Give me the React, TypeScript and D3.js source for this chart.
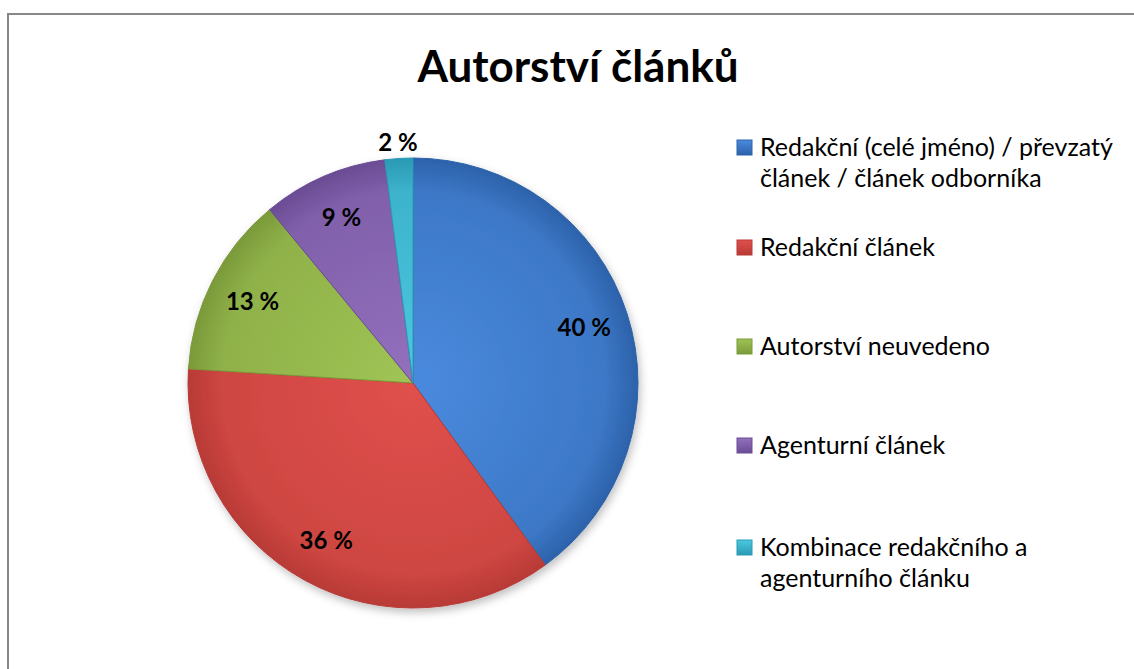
import React, { useEffect, useRef } from 'react';
import * as d3 from 'd3';

const categories = [
  'Redakční (celé jméno) / převzatý článek / článek odborníka',
  'Redakční článek',
  'Autorství neuvedeno',
  'Agenturní článek',
  'Kombinace redakčního a agenturního článku',
];
const values = [40, 36, 13, 9, 2];
const valueLabels = ['40 %', '36 %', '13 %', '9 %', '2 %'];
// legend text broken into lines as in the original
const legendLines = [
  ['Redakční (celé jméno) / převzatý', 'článek / článek odborníka'],
  ['Redakční článek'],
  ['Autorství neuvedeno'],
  ['Agenturní článek'],
  ['Kombinace redakčního a', 'agenturního článku'],
];
const colorsLight = ['#4a8ade', '#e0504c', '#a0c455', '#9370bd', '#4cc8e0'];
const colorsDark = ['#2c62aa', '#b83a36', '#7a9a3a', '#6a4c94', '#2a9ab4'];

const FONT = 'Lato, "Open Sans", sans-serif';

function App() {
  const ref = useRef<SVGSVGElement>(null);

  useEffect(() => {
    const svg = d3.select(ref.current);
    svg.selectAll('*').remove();

    const width = 1134;
    const height = 669;
    const cx = 413;
    const cy = 383;
    const r = 225;

    // frame (cut off on right and bottom like the original)
    svg
      .append('rect')
      .attr('x', 8)
      .attr('y', 14)
      .attr('width', width + 20)
      .attr('height', height + 20)
      .attr('fill', '#fff')
      .attr('stroke', '#888')
      .attr('stroke-width', 2);

    const defs = svg.append('defs');
    const shadow = defs.append('filter').attr('id', 'shadow').attr('x', '-10%').attr('y', '-10%').attr('width', '130%').attr('height', '130%');
    shadow.append('feDropShadow').attr('dx', 2).attr('dy', 4).attr('stdDeviation', 4).attr('flood-color', '#000').attr('flood-opacity', 0.25);

    values.forEach((_, i) => {
      const g = defs
        .append('radialGradient')
        .attr('id', `grad${i}`)
        .attr('gradientUnits', 'userSpaceOnUse')
        .attr('cx', 0)
        .attr('cy', 0)
        .attr('r', r);
      g.append('stop').attr('offset', '0%').attr('stop-color', colorsLight[i]);
      g.append('stop').attr('offset', '85%').attr('stop-color', d3.interpolateRgb(colorsLight[i], colorsDark[i])(0.45));
      g.append('stop').attr('offset', '100%').attr('stop-color', colorsDark[i]);
    });

    const pie = d3.pie<number>().sort(null).value((d) => d);
    const arcs = pie(values);
    const arc = d3.arc<d3.PieArcDatum<number>>().innerRadius(0).outerRadius(r);
    const labelArc = d3.arc<d3.PieArcDatum<number>>().innerRadius(r * 0.8).outerRadius(r * 0.8);
    const outerLabelArc = d3.arc<d3.PieArcDatum<number>>().innerRadius(r * 1.07).outerRadius(r * 1.07);

    const pieG = svg.append('g').attr('transform', `translate(${cx},${cy})`);

    pieG
      .append('g')
      .attr('filter', 'url(#shadow)')
      .selectAll('path')
      .data(arcs)
      .enter()
      .append('path')
      .attr('d', arc)
      .attr('fill', (d, i) => `url(#grad${i})`)
      .attr('stroke', (d, i) => colorsDark[i])
      .attr('stroke-width', 1);

    pieG
      .selectAll('text')
      .data(arcs)
      .enter()
      .append('text')
      .attr('transform', (d) => {
        const [x, y] = d.value < 5 ? outerLabelArc.centroid(d) : labelArc.centroid(d);
        return `translate(${x},${y})`;
      })
      .attr('text-anchor', 'middle')
      .attr('dy', '0.35em')
      .style('font-family', FONT)
      .style('font-weight', 'bold')
      .style('font-size', '24px')
      .attr('fill', '#000')
      .text((d, i) => valueLabels[i]);

    // title
    svg
      .append('text')
      .attr('x', 578)
      .attr('y', 82)
      .attr('text-anchor', 'middle')
      .style('font-family', FONT)
      .style('font-weight', 'bold')
      .style('font-size', '44px')
      .text('Autorství článků');

    // legend
    const legendY = [147, 247, 346, 445, 547];
    const legend = svg.append('g');
    categories.forEach((c, i) => {
      const lg = defs.append('linearGradient').attr('id', `lg${i}`).attr('x1', 0).attr('y1', 0).attr('x2', 0).attr('y2', 1);
      lg.append('stop').attr('offset', '0%').attr('stop-color', colorsLight[i]);
      lg.append('stop').attr('offset', '100%').attr('stop-color', colorsDark[i]);
      const item = legend.append('g').attr('transform', `translate(737,${legendY[i]})`);
      item
        .append('rect')
        .attr('x', 0)
        .attr('y', -7)
        .attr('width', 15)
        .attr('height', 15)
        .attr('fill', `url(#lg${i})`)
        .attr('stroke', colorsDark[i])
        .attr('stroke-width', 1);
      const t = item
        .append('text')
        .attr('x', 23)
        .attr('y', 0)
        .style('font-family', FONT)
        .style('font-size', '25px')
        .attr('fill', '#000');
      t.append('title').text(c);
      legendLines[i].forEach((line, j) => {
        t.append('tspan').attr('x', 23).attr('y', j * 31).attr('dy', '0.35em').text(line);
      });
    });
  }, []);

  return (
    <svg
      ref={ref}
      width={1134}
      height={669}
      style={{ position: 'absolute', left: 0, top: 0, background: '#fff' }}
    />
  );
}

export default App;
